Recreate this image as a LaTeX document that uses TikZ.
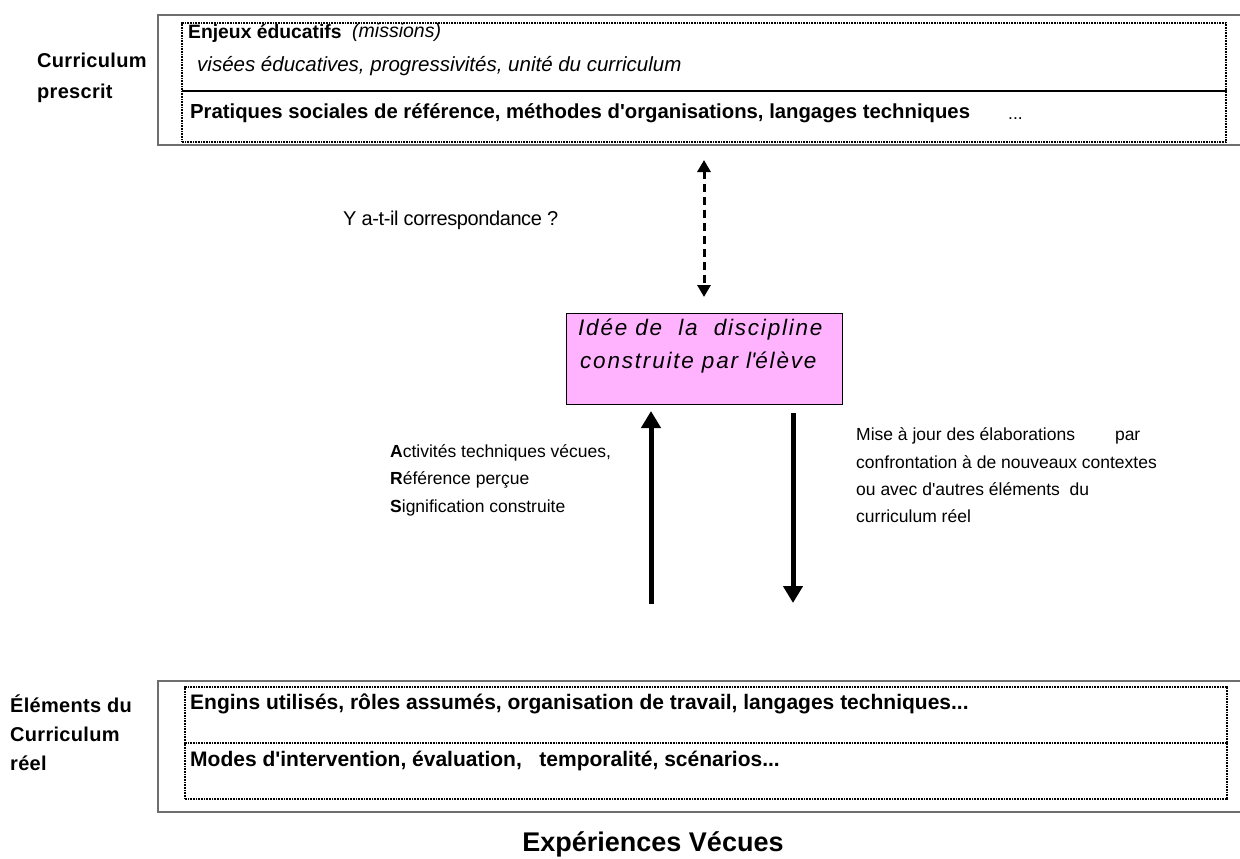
\documentclass[tikz,border=0pt]{standalone}
\usepackage{fontspec}
\setmainfont{Liberation Sans}
\usetikzlibrary{arrows.meta}
\definecolor{pinkbox}{RGB}{255,179,255}
\definecolor{framegray}{RGB}{110,110,110}
\newcommand{\apos}{\textquotesingle}
\tikzset{
  outerline/.style={draw=framegray,line width=1.6pt},
  innerbox/.style={draw,line width=1.7pt,dash pattern=on 0.9pt off 0.7pt,rectangle,anchor=north west,inner sep=0pt},
  txt/.style={anchor=base west,inner sep=0pt},
  bigarrow/.style={line width=5pt,-{Triangle[width=19pt,length=17pt]}},
  dasharrow/.style={line width=3pt,dash pattern=on 8pt off 5pt,{Triangle[width=13pt,length=12pt]}-{Triangle[width=13pt,length=12pt]}},
  boxfont/.style={font=\fontsize{20.3}{24}\selectfont\bfseries},
  lowboxfont/.style={font=\fontsize{21}{24}\selectfont\bfseries},
  sidefont/.style={font=\fontsize{20}{24}\selectfont\bfseries\addfontfeature{LetterSpace=1.5}},
  plainfont/.style={font=\fontsize{17.5}{22}\selectfont},
  pinkfont/.style={font=\fontsize{22.5}{24}\selectfont\itshape\addfontfeature{LetterSpace=8}},
}
\begin{document}
\begin{tikzpicture}[x=1pt,y=-1pt]
\useasboundingbox (0,0) rectangle (1240,859);
% ---------- top frame ----------
\draw[outerline] (1240,15) -- (158,15) -- (158,145) -- (1240,145);
\node[innerbox,minimum width=1044pt,minimum height=68pt] (enjeux) at (181,22) {};
\node[innerbox,minimum width=1044pt,minimum height=51pt] (pratiques) at (181,90) {};
\node[txt,font=\fontsize{19.3}{22}\selectfont\bfseries] (t1) at (188,39) {Enjeux éducatifs};
\node[txt,font=\fontsize{19.5}{22}\selectfont\itshape] (t2) at (352,38) {(missions)};
\node[txt,font=\fontsize{20.5}{24}\selectfont\itshape] (t3) at (197,72) {visées éducatives, progressivités, unité du curriculum};
\node[txt,boxfont] (t4) at (190,118) {Pratiques sociales de référence, méthodes d\apos organisations, langages techniques};
\node[txt,plainfont] (t5) at (1008,119) {...};
\node[txt,sidefont] (cp1) at (37,67) {Curriculum};
\node[txt,sidefont] (cp2) at (37,99) {prescrit};
% ---------- dashed arrow ----------
\coordinate (dtop) at (704,160);
\coordinate (dbot) at (704,297);
\draw[dasharrow] (dtop) -- (dbot);
\node[txt,font=\fontsize{20}{22}\selectfont\addfontfeature{LetterSpace=-2}] (corr) at (343,225) {Y a-t-il correspondance ?};
% ---------- pink box ----------
\node[draw,fill=pinkbox,line width=1pt,rectangle,anchor=north west,minimum width=276pt,minimum height=91pt,inner sep=0pt] (idee) at (566,313) {};
\node[txt,pinkfont] (i1) at (578,335) {Idée de\ \ la\ \ discipline};
\node[txt,pinkfont] (i2) at (580,368) {construite par l\apos élève};
% ---------- vertical arrows ----------
\coordinate (upstart) at (651,604);
\coordinate (uptip) at (651,411);
\draw[bigarrow] (upstart) -- (uptip);
\coordinate (downstart) at (793,413);
\coordinate (downtip) at (793,603);
\draw[bigarrow] (downstart) -- (downtip);
\node[txt,plainfont] (a1) at (390,457) {\textbf{A}ctivités techniques vécues,};
\node[txt,plainfont] (a2) at (390,484) {\textbf{R}éférence perçue};
\node[txt,plainfont] (a3) at (390,512) {\textbf{S}ignification construite};
\node[txt,plainfont] (m1) at (856,440) {Mise à jour des élaborations\hspace{40pt}par};
\node[txt,plainfont] (m2) at (856,468) {confrontation à de nouveaux contextes};
\node[txt,plainfont] (m3) at (856,495) {ou avec d\apos autres éléments\ \ du};
\node[txt,plainfont] (m4) at (856,522) {curriculum réel};
% ---------- bottom frame ----------
\draw[outerline] (1240,681) -- (158,681) -- (158,812) -- (1240,812);
\node[innerbox,minimum width=1042pt,minimum height=56pt] (engins) at (184,686) {};
\node[innerbox,minimum width=1042pt,minimum height=56pt] (modes) at (184,742) {};
\node[txt,lowboxfont] (b1) at (190,709) {Engins utilisés, rôles assumés, organisation de travail, langages techniques...};
\node[txt,lowboxfont] (b2) at (190,766) {Modes d\apos intervention, évaluation,\ \ \ temporalité, scénarios...};
\node[txt,sidefont] (e1) at (10,712) {Éléments du};
\node[txt,sidefont] (e2) at (10,741) {Curriculum};
\node[txt,sidefont] (e3) at (10,770) {réel};
\node[font=\fontsize{27}{30}\selectfont\bfseries,anchor=base,inner sep=0pt] (exp) at (653,851) {Expériences Vécues};
\end{tikzpicture}
\end{document}
